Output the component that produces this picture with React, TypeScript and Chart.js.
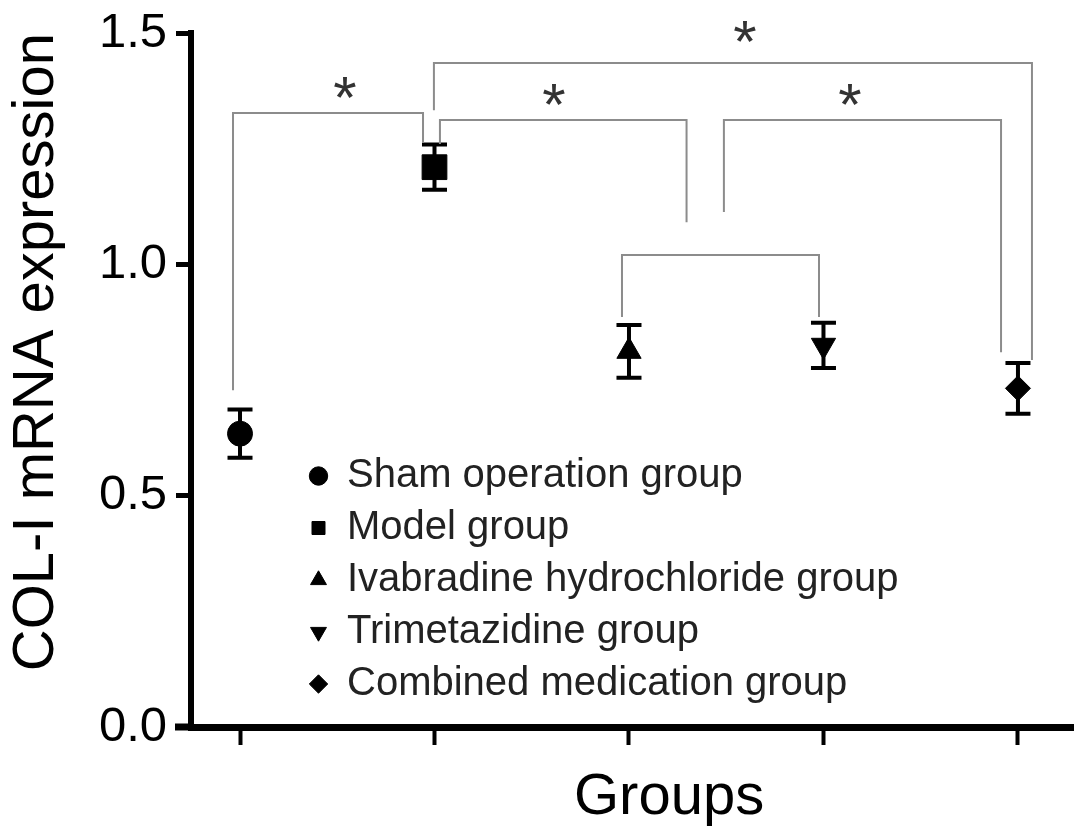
import React, { useEffect, useRef } from 'react';
import { Chart, registerables } from 'chart.js';

Chart.register(...registerables);

// ---------- data ----------
const GROUPS = [
  'Sham operation group',
  'Model group',
  'Ivabradine hydrochloride group',
  'Trimetazidine group',
  'Combined medication group',
];
const GROUP_X = [1, 2, 3, 4, 5];
const MEANS = [0.634, 1.21, 0.812, 0.825, 0.732];
const ERRORS = [0.052, 0.049, 0.057, 0.049, 0.055];
const POINT_STYLES = ['circle', 'rect', 'triangle', 'triangle', 'rectRot'];
const POINT_ROTATIONS = [0, 0, 0, 180, 0];
const POINT_RADII = [12.5, 17.5, 14, 14, 12.5];
const Y_TICKS = [0, 0.5, 1.0, 1.5];
const X_TITLE = 'Groups';
const Y_TITLE = 'COL-I mRNA expression';

// significance brackets (data units)
const BRACKET_X_LEFT = [0.964, 1.997, 2.028, 3.488, 2.964];
const BRACKET_X_RIGHT = [1.941, 5.072, 3.296, 4.913, 3.977];
const BRACKET_Y_TOP = [1.327, 1.435, 1.312, 1.312, 1.02];
const BRACKET_Y_LEFT_END = [0.728, 1.333, 1.26, 1.113, 0.886];
const BRACKET_Y_RIGHT_END = [1.262, 0.793, 1.091, 0.81, 0.886];
const STAR_X = [1.54, 2.614, 4.136, 3.596];
const STAR_Y = [1.379, 1.364, 1.364, 1.5];
const STAR_TEXT = '*';

const FONT = "'Liberation Sans', Arial, Helvetica, sans-serif";

const overlayPlugin = {
  id: 'overlay',
  afterDatasetsDraw(chart: any) {
    const { ctx, scales, chartArea } = chart;
    const x = scales.x;
    const y = scales.y;
    ctx.save();

    // extend x axis line to the left like the original
    ctx.fillStyle = '#000';
    ctx.fillRect(chartArea.left - 16, chartArea.bottom - 3.5, 16, 7);

    // error bars
    const cap = 12.5;
    ctx.strokeStyle = '#000';
    ctx.lineWidth = 4;
    ctx.lineCap = 'butt';
    GROUP_X.forEach((gx, i) => {
      const px = x.getPixelForValue(gx);
      const top = y.getPixelForValue(MEANS[i] + ERRORS[i]);
      const bot = y.getPixelForValue(MEANS[i] - ERRORS[i]);
      ctx.beginPath();
      ctx.moveTo(px, top);
      ctx.lineTo(px, bot);
      ctx.moveTo(px - cap, top);
      ctx.lineTo(px + cap, top);
      ctx.moveTo(px - cap, bot);
      ctx.lineTo(px + cap, bot);
      ctx.stroke();
    });

    // brackets
    ctx.strokeStyle = '#8c8c8c';
    ctx.lineWidth = 2;
    ctx.lineJoin = 'miter';
    BRACKET_X_LEFT.forEach((xl, i) => {
      const x1 = x.getPixelForValue(xl);
      const x2 = x.getPixelForValue(BRACKET_X_RIGHT[i]);
      const yt = y.getPixelForValue(BRACKET_Y_TOP[i]);
      const yl = y.getPixelForValue(BRACKET_Y_LEFT_END[i]);
      const yr = y.getPixelForValue(BRACKET_Y_RIGHT_END[i]);
      ctx.beginPath();
      ctx.moveTo(x1, yl);
      ctx.lineTo(x1, yt);
      ctx.lineTo(x2, yt);
      ctx.lineTo(x2, yr);
      ctx.stroke();
    });

    // stars
    const fs = 60;
    ctx.fillStyle = '#333';
    ctx.font = `${fs}px ${FONT}`;
    ctx.textAlign = 'center';
    ctx.textBaseline = 'alphabetic';
    STAR_X.forEach((sx, i) => {
      const px = x.getPixelForValue(sx);
      const py = y.getPixelForValue(STAR_Y[i]);
      ctx.fillText(STAR_TEXT, px, py + fs * 0.48);
    });

    // x axis title (offset to the right as in the original)
    ctx.fillStyle = '#000';
    ctx.font = `58px ${FONT}`;
    ctx.textAlign = 'center';
    ctx.textBaseline = 'alphabetic';
    ctx.fillText(X_TITLE, x.getPixelForValue(3.206), chartArea.bottom + 87);
    ctx.restore();
  },
};

const legendPlacer = {
  id: 'legendPlacer',
  afterLayout(chart: any) {
    const lg = chart.legend;
    if (!lg) return;
    const left = 290;
    const top = 436;
    lg.left = left;
    lg.right = left + lg.width;
    lg.top = top;
    lg.bottom = top + 400;
  },
};

export default function App() {
  const canvasRef = useRef<HTMLCanvasElement | null>(null);

  useEffect(() => {
    if (!canvasRef.current) return;
    const datasets = GROUPS.map((g, i) => ({
      label: g,
      data: [{ x: GROUP_X[i], y: MEANS[i] }],
      pointStyle: POINT_STYLES[i],
      rotation: POINT_ROTATIONS[i],
      pointRadius: POINT_RADII[i],
      backgroundColor: '#000',
      borderColor: '#000',
      borderWidth: 1,
      showLine: false,
    }));

    const chart = new Chart(canvasRef.current, {
      type: 'scatter',
      data: { datasets } as any,
      options: {
        responsive: false,
        animation: false,
        layout: { autoPadding: false, padding: { left: 0, top: 25, right: 6, bottom: 9 } },
        plugins: {
          legend: {
            position: 'chartArea' as any,
            fullSize: false,
            align: 'start',
            labels: {
              usePointStyle: true,
              boxWidth: 17,
              boxHeight: 13,
              padding: 12,
              color: '#222',
              font: { family: FONT, size: 40 },
            },
          },
          tooltip: { enabled: false },
        },
        scales: {
          x: {
            type: 'linear',
            min: 0.748,
            max: 5.283,
            afterBuildTicks: (s: any) => {
              s.ticks = GROUP_X.map((v) => ({ value: v }));
            },
            afterFit: (s: any) => {
              s.height = 96;
            },
            ticks: { autoSkip: false, padding: 0, callback: () => '' },
            grid: {
              drawOnChartArea: false,
              drawTicks: true,
              tickLength: 18,
              tickWidth: 4,
              color: '#000',
            },
            border: { display: true, width: 7, color: '#000' },
            title: { display: false },
          },
          y: {
            type: 'linear',
            min: 0,
            max: 1.5,
            afterBuildTicks: (s: any) => {
              s.ticks = Y_TICKS.map((v) => ({ value: v }));
            },
            afterFit: (s: any) => {
              s.width = 183;
            },
            ticks: {
              callback: (v: any) => Number(v).toFixed(1),
              color: '#000',
              padding: 9,
              font: { family: FONT, size: 49, lineHeight: 0.5 },
            },
            grid: {
              drawOnChartArea: false,
              drawTicks: true,
              tickLength: 15,
              tickWidth: 5,
              color: '#000',
            },
            border: { display: true, width: 6, color: '#000' },
            title: {
              display: true,
              text: Y_TITLE,
              align: 'end',
              color: '#000',
              font: { family: FONT, size: 58, lineHeight: 1 },
              padding: 0,
            },
          },
        },
      },
      plugins: [overlayPlugin, legendPlacer],
    } as any);

    return () => chart.destroy();
  }, []);

  return (
    <canvas
      ref={canvasRef}
      width={1071}
      height={824}
      style={{ display: 'block', width: '1071px', height: '824px' }}
    />
  );
}
